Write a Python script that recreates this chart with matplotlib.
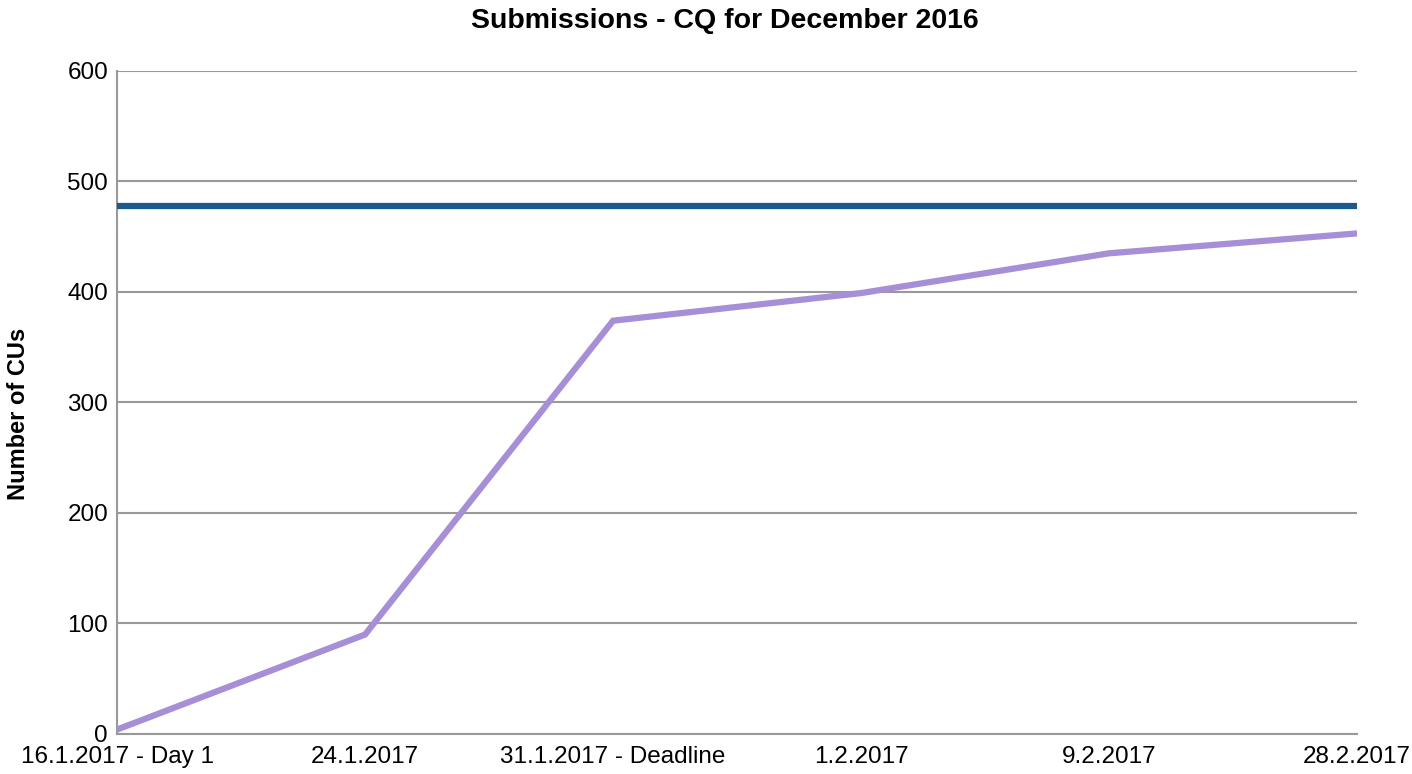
import matplotlib
matplotlib.use("Agg")
import matplotlib.pyplot as plt

plt.rcParams['font.family'] = ['Liberation Sans', 'DejaVu Sans']

categories = ["16.1.2017 - Day 1", "24.1.2017", "31.1.2017 - Deadline", "1.2.2017", "9.2.2017", "28.2.2017"]
submissions = [4, 90, 374, 399, 435, 453]
target = [478, 478, 478, 478, 478, 478]
yticks = [0, 100, 200, 300, 400, 500, 600]

fig = plt.figure(figsize=(14.12, 7.74), dpi=100)
ax = fig.add_axes([0.0829, 0.0517, 0.8782, 0.8566])

x = list(range(len(categories)))
ax.plot(x, target, color='#1B5A8C', linewidth=4.5, solid_capstyle='butt', zorder=3)
ax.plot(x, submissions, color='#A78FD8', linewidth=4.5, solid_capstyle='butt', solid_joinstyle='miter', zorder=3)

ax.set_xlim(0, len(categories) - 1)
ax.set_ylim(0, 600)
ax.set_yticks(yticks)
ax.set_xticks(x)
ax.set_xticklabels(categories, fontsize=17.5)
ax.set_yticklabels([str(v) for v in yticks], fontsize=17.5)
ax.tick_params(axis='x', length=0, pad=8.5)
ax.tick_params(axis='y', length=0, pad=6.5)
ax.grid(axis='y', color='#999999', linewidth=1.5)
ax.set_axisbelow(True)
for s in ['top', 'right']:
    ax.spines[s].set_visible(False)
for s in ['left', 'bottom']:
    ax.spines[s].set_color('#999999')
    ax.spines[s].set_linewidth(1.5)

ax.set_ylabel("Number of CUs", fontsize=17, fontweight='bold')
ax.yaxis.set_label_coords(-0.0705, 0.483)
fig.suptitle("Submissions - CQ for December 2016", fontsize=20.5, fontweight='bold', x=0.513, y=0.99)

fig.savefig("out.png", dpi=100)
